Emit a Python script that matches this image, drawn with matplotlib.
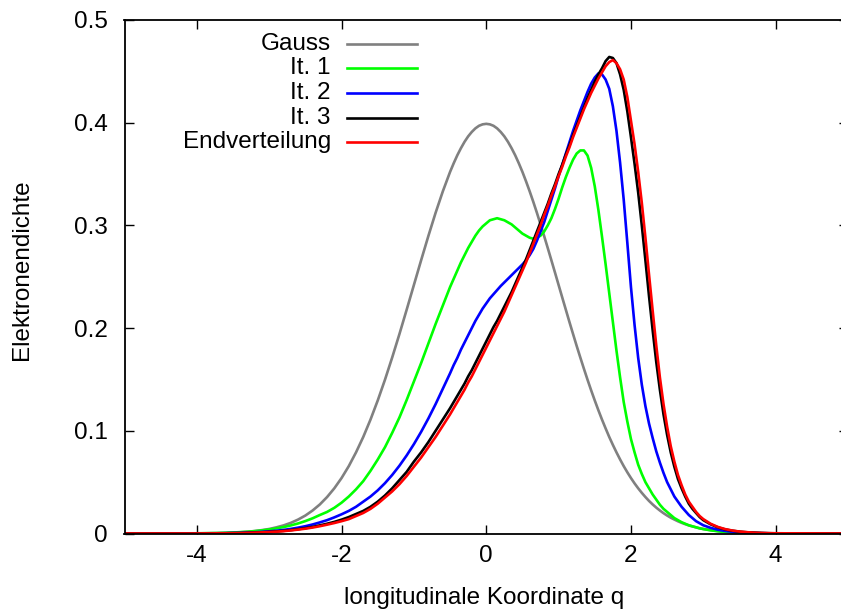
import numpy as np
import matplotlib
matplotlib.use("Agg")
import matplotlib.pyplot as plt
from matplotlib.lines import Line2D

plt.rcParams['font.family'] = ['Liberation Sans', 'DejaVu Sans']
plt.rcParams['font.size'] = 17.5

# sampling grid of the longitudinal coordinate q:
# step 0.1 in the tails, step 0.05 in the region of the peaks, plus the plot edges
q_left = [round(-4.0 + 0.1 * i, 1) for i in range(35)]      # -4.0 .. -0.6
q_mid = [round(-0.5 + 0.05 * i, 2) for i in range(71)]      # -0.5 .. 3.0
q_right = [round(3.1 + 0.1 * i, 1) for i in range(10)]      # 3.1 .. 4.0
q = [-5.0] + q_left + q_mid + q_right + [5.0]

gauss = ([0.0] +
         [0.0001, 0.0002, 0.0003, 0.0004, 0.0006, 0.0009, 0.0012, 0.0017, 0.0024, 0.0033,
          0.0044, 0.0060, 0.0079, 0.0104, 0.0136, 0.0175, 0.0224, 0.0283, 0.0355, 0.0440,
          0.0540, 0.0656, 0.0790, 0.0940, 0.1109, 0.1295, 0.1497, 0.1714, 0.1942, 0.2179,
          0.2420, 0.2661, 0.2897, 0.3123, 0.3332] +
         [0.3521, 0.3605, 0.3683, 0.3752, 0.3814, 0.3867, 0.3910, 0.3945, 0.3970, 0.3984,
          0.3989, 0.3984, 0.3970, 0.3945, 0.3910, 0.3867, 0.3814, 0.3752, 0.3683, 0.3605,
          0.3521, 0.3429, 0.3332, 0.3230, 0.3123, 0.3011, 0.2897, 0.2780, 0.2661, 0.2541,
          0.2420, 0.2299, 0.2179, 0.2059, 0.1942, 0.1826, 0.1714, 0.1604, 0.1497, 0.1394,
          0.1295, 0.1200, 0.1109, 0.1023, 0.0940, 0.0863, 0.0790, 0.0721, 0.0656, 0.0596,
          0.0540, 0.0488, 0.0440, 0.0396, 0.0355, 0.0317, 0.0283, 0.0252, 0.0224, 0.0198,
          0.0175, 0.0154, 0.0136, 0.0119, 0.0104, 0.0091, 0.0079, 0.0069, 0.0060, 0.0051,
          0.0044] +
         [0.0033, 0.0024, 0.0017, 0.0012, 0.0009, 0.0006, 0.0004, 0.0003, 0.0002, 0.0001] +
         [0.0])

it1 = ([0.0] +
       [0.0002, 0.0003, 0.0004, 0.0005, 0.0007, 0.0010, 0.0013, 0.0017, 0.0023, 0.0030,
        0.0039, 0.0050, 0.0063, 0.0079, 0.0098, 0.0121, 0.0148, 0.0180, 0.0210, 0.0250,
        0.030, 0.036, 0.043, 0.051, 0.061, 0.072, 0.084, 0.098, 0.113, 0.130,
        0.148, 0.166, 0.185, 0.204, 0.222] +
       [0.240, 0.248, 0.256, 0.264, 0.271, 0.278, 0.284, 0.290, 0.295, 0.299,
        0.302, 0.305, 0.306, 0.307, 0.306, 0.305, 0.303, 0.301, 0.298, 0.295,
        0.292, 0.290, 0.288, 0.287, 0.288, 0.290, 0.294, 0.300, 0.307, 0.316,
        0.326, 0.337, 0.347, 0.356, 0.364, 0.370, 0.373, 0.373, 0.368, 0.356,
        0.338, 0.315, 0.289, 0.262, 0.234, 0.206, 0.178, 0.152, 0.128, 0.109,
        0.092, 0.079, 0.067, 0.058, 0.050, 0.044, 0.038, 0.033, 0.028, 0.024,
        0.021, 0.018, 0.015, 0.013, 0.011, 0.0095, 0.008, 0.007, 0.006, 0.005,
        0.0043] +
       [0.0031, 0.0022, 0.0015, 0.0011, 0.0007, 0.0005, 0.0003, 0.0002, 0.0001, 0.0001] +
       [0.0])

it2 = ([0.0] +
       [0.0001, 0.0001, 0.0002, 0.0002, 0.0003, 0.0005, 0.0006, 0.0009, 0.0012, 0.0016,
        0.0021, 0.0027, 0.0035, 0.0045, 0.0057, 0.0071, 0.0088, 0.0108, 0.0130, 0.0157,
        0.0187, 0.022, 0.026, 0.031, 0.036, 0.042, 0.049, 0.057, 0.066, 0.076,
        0.087, 0.099, 0.112, 0.126, 0.141] +
       [0.156, 0.164, 0.171, 0.179, 0.186, 0.193, 0.200, 0.207, 0.213, 0.219,
        0.224, 0.229, 0.233, 0.237, 0.241, 0.2445, 0.248, 0.2515, 0.255, 0.2585,
        0.262, 0.266, 0.271, 0.277, 0.285, 0.294, 0.303, 0.314, 0.325, 0.336,
        0.348, 0.359, 0.370, 0.381, 0.392, 0.402, 0.412, 0.421, 0.430, 0.438,
        0.444, 0.448, 0.447, 0.442, 0.433, 0.416, 0.392, 0.361, 0.325, 0.283,
        0.240, 0.203, 0.171, 0.145, 0.124, 0.107, 0.093, 0.080, 0.069, 0.059,
        0.050, 0.043, 0.036, 0.031, 0.026, 0.022, 0.018, 0.015, 0.012, 0.010,
        0.008] +
       [0.0055, 0.0037, 0.0025, 0.0017, 0.0011, 0.0007, 0.0005, 0.0003, 0.0002, 0.0001] +
       [0.0])

it3 = ([0.0] +
       [0.0000, 0.0001, 0.0001, 0.0002, 0.0002, 0.0003, 0.0004, 0.0006, 0.0009, 0.0012,
        0.0016, 0.0020, 0.0026, 0.0033, 0.0042, 0.0052, 0.0064, 0.0079, 0.0095, 0.0113,
        0.0135, 0.016, 0.019, 0.022, 0.026, 0.031, 0.037, 0.044, 0.052, 0.060,
        0.070, 0.079, 0.089, 0.100, 0.111] +
       [0.122, 0.128, 0.134, 0.140, 0.146, 0.153, 0.159, 0.166, 0.173, 0.180,
        0.187, 0.194, 0.201, 0.207, 0.214, 0.221, 0.228, 0.235, 0.243, 0.251,
        0.259, 0.267, 0.276, 0.285, 0.294, 0.303, 0.312, 0.321, 0.331, 0.340,
        0.350, 0.359, 0.369, 0.378, 0.388, 0.397, 0.406, 0.415, 0.424, 0.432,
        0.440, 0.447, 0.453, 0.460, 0.464, 0.463, 0.458, 0.447, 0.432, 0.411,
        0.386, 0.360, 0.332, 0.300, 0.266, 0.231, 0.198, 0.167, 0.140, 0.116,
        0.096, 0.079, 0.065, 0.053, 0.044, 0.036, 0.029, 0.024, 0.020, 0.016,
        0.013] +
       [0.009, 0.006, 0.004, 0.0027, 0.0018, 0.0012, 0.0008, 0.0005, 0.0003, 0.0002] +
       [0.0])

endverteilung = ([0.0] +
       [0.0000, 0.0001, 0.0001, 0.0002, 0.0002, 0.0003, 0.0004, 0.0006, 0.0008, 0.0011,
        0.0014, 0.0018, 0.0023, 0.0030, 0.0038, 0.0047, 0.0058, 0.0071, 0.0086, 0.0102,
        0.0120, 0.014, 0.017, 0.020, 0.024, 0.029, 0.035, 0.041, 0.048, 0.056,
        0.065, 0.074, 0.084, 0.094, 0.105] +
       [0.116, 0.122, 0.128, 0.134, 0.140, 0.147, 0.153, 0.160, 0.167, 0.174,
        0.181, 0.188, 0.195, 0.202, 0.209, 0.216, 0.224, 0.232, 0.240, 0.248,
        0.256, 0.264, 0.273, 0.282, 0.291, 0.300, 0.310, 0.319, 0.329, 0.338,
        0.348, 0.357, 0.367, 0.376, 0.386, 0.395, 0.404, 0.413, 0.421, 0.429,
        0.436, 0.443, 0.449, 0.455, 0.459, 0.461, 0.458, 0.452, 0.442, 0.425,
        0.402, 0.379, 0.352, 0.322, 0.288, 0.252, 0.217, 0.183, 0.152, 0.126,
        0.104, 0.085, 0.070, 0.057, 0.047, 0.038, 0.031, 0.026, 0.021, 0.017,
        0.014] +
       [0.0095, 0.0064, 0.0043, 0.0029, 0.0019, 0.0013, 0.0008, 0.0005, 0.0003, 0.0002] +
       [0.0])

labels = ["Gauss", "It. 1", "It. 2", "It. 3", "Endverteilung"]
colors = ["#808080", "#00ff00", "#0000ff", "#000000", "#ff0000"]
series = [gauss, it1, it2, it3, endverteilung]

x_ticks = [-4, -2, 0, 2, 4]
y_ticks = [0, 0.1, 0.2, 0.3, 0.4, 0.5]
y_tick_labels = ["0", "0.1", "0.2", "0.3", "0.4", "0.5"]

W, H = 841, 612
fig = plt.figure(figsize=(W / 100, H / 100), dpi=100)
ax = fig.add_axes([124.5 / W, (H - 533.5) / H, 723.5 / W, 513.5 / H])

for ys, c in zip(series, colors):
    ax.plot(q, ys, color=c, lw=1.9, solid_joinstyle="round")

ax.set_xlim(-5, 5)
ax.set_ylim(0, 0.5)
ax.set_xticks(x_ticks)
ax.set_xticklabels([str(t) for t in x_ticks])
ax.set_yticks(y_ticks)
ax.set_yticklabels(y_tick_labels)
ax.tick_params(direction="in", length=6.5, width=1.0, top=True, right=True,
               labelsize=17.5, colors="black")
ax.tick_params(axis="x", pad=8)
ax.tick_params(axis="y", pad=12)
for s in ax.spines.values():
    s.set_linewidth(1.3)

fig.text(484 / W, 1 - 598 / H, "longitudinale Koordinate q", ha="center", va="center",
         fontsize=17.5)
fig.text(22 / W, 1 - 270 / H, "Elektronendichte", ha="center", va="center",
         rotation=90, fontsize=17.5)

# key: right-justified labels with line samples to their right
for i, (lab, c) in enumerate(zip(labels, colors)):
    yk = 1 - (43.5 + i * 24.7) / H
    fig.text(331 / W, yk, lab, ha="right", va="center", fontsize=17.5)
    fig.add_artist(Line2D([347 / W, 417 / W], [yk, yk], transform=fig.transFigure,
                          color=c, lw=1.9))

fig.savefig("out.png", dpi=100)
